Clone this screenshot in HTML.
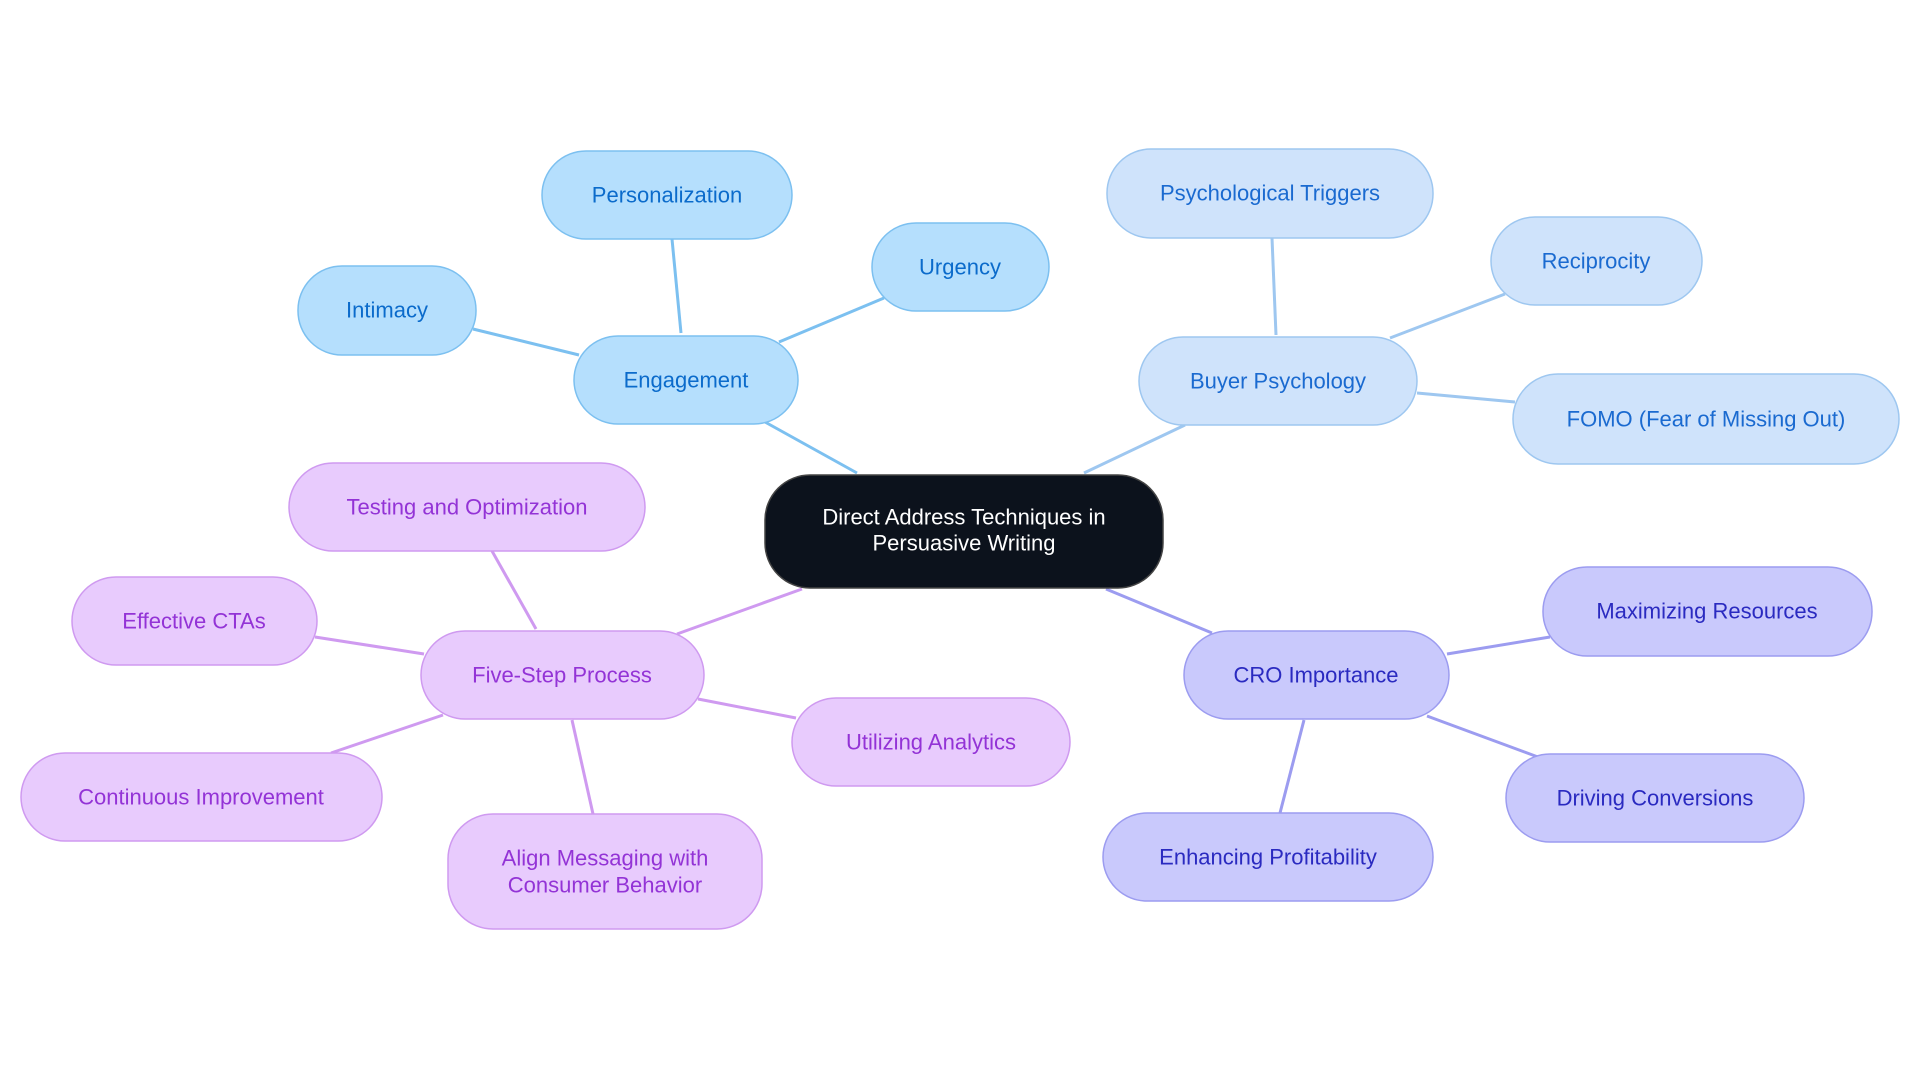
<!DOCTYPE html>
<html><head><meta charset="utf-8"><style>
html,body{margin:0;padding:0;background:#fff;}
svg{display:block;}
text{font-family:"Liberation Sans",sans-serif;font-size:22px;text-anchor:middle;dominant-baseline:central;}
</style></head><body>
<svg width="1920" height="1083" viewBox="0 0 1920 1083" xmlns="http://www.w3.org/2000/svg">
<g stroke-width="3" fill="none">
<g stroke="#7cc0f0">
<line x1="857" y1="473" x2="765" y2="422"/>
<line x1="681" y1="333" x2="672" y2="239"/>
<line x1="779" y1="342" x2="884" y2="298"/>
<line x1="579" y1="355" x2="473" y2="329"/>
</g>
<g stroke="#9ec7f0">
<line x1="1084" y1="473" x2="1185" y2="425"/>
<line x1="1276" y1="335" x2="1272" y2="238"/>
<line x1="1390" y1="338" x2="1505" y2="294"/>
<line x1="1417" y1="393" x2="1515" y2="402"/>
</g>
<g stroke="#9c9cf0">
<line x1="1106" y1="589" x2="1212" y2="633"/>
<line x1="1447" y1="654" x2="1550" y2="637"/>
<line x1="1427" y1="716" x2="1538" y2="757"/>
<line x1="1304" y1="720" x2="1280" y2="813"/>
</g>
<g stroke="#cf9af0">
<line x1="802" y1="589" x2="677" y2="634"/>
<line x1="536" y1="629" x2="492" y2="551"/>
<line x1="424" y1="654" x2="315" y2="637"/>
<line x1="698" y1="699" x2="796" y2="718"/>
<line x1="443" y1="715" x2="331" y2="753"/>
<line x1="572" y1="720" x2="593" y2="814"/>
</g>
</g>
<g stroke-width="1.5">
<rect x="765" y="475" width="398" height="113" rx="45" fill="#0c121c" stroke="#444"/>
<g fill="#b5dffd" stroke="#7cc0f0">
<rect x="542" y="151" width="250" height="88" rx="44"/>
<rect x="872" y="223" width="177" height="88" rx="44"/>
<rect x="298" y="266" width="178" height="89" rx="44"/>
<rect x="574" y="336" width="224" height="88" rx="44"/>
</g>
<g fill="#cfe3fb" stroke="#9ec7f0">
<rect x="1107" y="149" width="326" height="89" rx="44"/>
<rect x="1491" y="217" width="211" height="88" rx="44"/>
<rect x="1139" y="337" width="278" height="88" rx="44"/>
<rect x="1513" y="374" width="386" height="90" rx="45"/>
</g>
<g fill="#c9c9fc" stroke="#9c9cf0">
<rect x="1543" y="567" width="329" height="89" rx="44"/>
<rect x="1184" y="631" width="265" height="88" rx="44"/>
<rect x="1506" y="754" width="298" height="88" rx="44"/>
<rect x="1103" y="813" width="330" height="88" rx="44"/>
</g>
<g fill="#e8cbfd" stroke="#cf9af0">
<rect x="289" y="463" width="356" height="88" rx="44"/>
<rect x="72" y="577" width="245" height="88" rx="44"/>
<rect x="421" y="631" width="283" height="88" rx="44"/>
<rect x="792" y="698" width="278" height="88" rx="44"/>
<rect x="21" y="753" width="361" height="88" rx="44"/>
<rect x="448" y="814" width="314" height="115" rx="45"/>
</g>
</g>
<text x="964" y="517" fill="#fff">Direct Address Techniques in</text>
<text x="964" y="543" fill="#fff">Persuasive Writing</text>
<g fill="#0b6bcb">
<text x="667" y="195">Personalization</text>
<text x="960" y="267">Urgency</text>
<text x="387" y="310">Intimacy</text>
<text x="686" y="380">Engagement</text>
</g>
<g fill="#1a6ad0">
<text x="1270" y="193">Psychological Triggers</text>
<text x="1596" y="261">Reciprocity</text>
<text x="1278" y="381">Buyer Psychology</text>
<text x="1706" y="419">FOMO (Fear of Missing Out)</text>
</g>
<g fill="#2a2ac0">
<text x="1707" y="611">Maximizing Resources</text>
<text x="1316" y="675">CRO Importance</text>
<text x="1655" y="798">Driving Conversions</text>
<text x="1268" y="857">Enhancing Profitability</text>
</g>
<g fill="#9333d6">
<text x="467" y="507">Testing and Optimization</text>
<text x="194" y="621">Effective CTAs</text>
<text x="562" y="675">Five-Step Process</text>
<text x="931" y="742">Utilizing Analytics</text>
<text x="201" y="797">Continuous Improvement</text>
<text x="605" y="858">Align Messaging with</text>
<text x="605" y="885">Consumer Behavior</text>
</g>
</svg>
</body></html>
